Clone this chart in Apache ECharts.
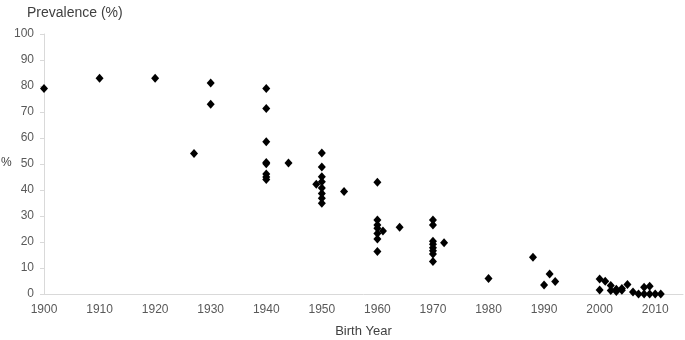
<!DOCTYPE html>
<html>
<head>
<meta charset="utf-8">
<script src="https://cdn.jsdelivr.net/npm/echarts@6/dist/echarts.min.js"></script>
<style>
html,body{margin:0;padding:0;background:#fff;}
#chart{width:685px;height:340px;}
</style>
</head>
<body>
<div id="chart"></div>
<script>
var birthYears = [
  1900, 1910, 1920, 1927, 1930, 1930,
  1940, 1940, 1940, 1940, 1940, 1940, 1940, 1940, 1944,
  1949, 1950, 1950, 1950, 1950, 1950, 1950, 1950, 1950, 1954,
  1960, 1960, 1960, 1960, 1960, 1960, 1960, 1961, 1964,
  1970, 1970, 1970, 1970, 1970, 1970, 1970, 1970, 1972,
  1980, 1988, 1990, 1991, 1992,
  2000, 2000, 2001, 2002, 2002, 2003, 2003, 2004, 2004, 2005, 2006, 2007,
  2008, 2008, 2009, 2009, 2010, 2011
];
var prevalence = [
  79, 83, 83, 54, 81.2, 73,
  79, 71.3, 58.6, 50.6, 50.1, 46.2, 45, 44, 50.4,
  42.2, 54.2, 48.8, 45.1, 43.2, 40.8, 38.7, 36.8, 34.9, 39.4,
  43, 28.5, 26.5, 25.3, 23.3, 21.2, 16.3, 24.2, 25.7,
  28.5, 26.5, 20.3, 19.1, 17.8, 16.6, 15.4, 12.5, 19.7,
  6.0, 14.1, 3.5, 7.7, 4.8,
  5.8, 1.5, 4.9, 3.3, 1.3, 1.0, 1.8, 1.4, 2.1, 3.7, 0.8, 0,
  2.6, 0, 3.0, 0, 0, 0
];
var xTicks = { min: 1900, max: 2015, interval: 10 };
var yTicks = { min: 0, max: 100, interval: 10 };

var points = birthYears.map(function (y, i) { return [y, prevalence[i]]; });

var font = 'Liberation Sans';
var chart = echarts.init(document.getElementById('chart'), null, { renderer: 'canvas' });
chart.setOption({
  animation: false,
  backgroundColor: '#ffffff',
  title: {
    text: 'Prevalence (%)',
    left: 22, top: 1,
    textStyle: { fontFamily: font, fontSize: 14, fontWeight: 'normal', color: '#404040' }
  },
  graphic: [{
    type: 'text', left: 1, top: 157,
    style: { text: '%', fontFamily: font, fontSize: 12, fill: '#404040' }
  }],
  grid: { left: 44, right: 2, top: 34, bottom: 46, containLabel: false, outerBoundsMode: 'none' },
  xAxis: {
    type: 'value',
    min: xTicks.min, max: xTicks.max, interval: xTicks.interval,
    name: 'Birth Year',
    nameLocation: 'middle',
    nameGap: 31,
    nameTextStyle: { fontFamily: font, fontSize: 13, color: '#404040' },
    axisLine: { show: true, lineStyle: { color: '#d9d9d9', width: 1 } },
    axisTick: { show: false },
    splitLine: { show: false },
    axisLabel: {
      fontFamily: font, fontSize: 12, color: '#595959', margin: 10,
      showMaxLabel: false,
      formatter: function (v) { return v % 10 === 0 ? String(v) : ''; }
    }
  },
  yAxis: {
    type: 'value',
    min: yTicks.min, max: yTicks.max, interval: yTicks.interval,
    axisLine: { show: true, lineStyle: { color: '#d9d9d9', width: 1 } },
    axisTick: { show: true, length: 4, lineStyle: { color: '#d9d9d9' } },
    splitLine: { show: false },
    axisLabel: { fontFamily: font, fontSize: 12, color: '#595959', margin: 10 }
  },
  series: [{
    type: 'scatter',
    data: points,
    symbol: 'diamond',
    symbolSize: [8, 9],
    itemStyle: { color: '#000000', opacity: 1 }
  }]
});
</script>
</body>
</html>
